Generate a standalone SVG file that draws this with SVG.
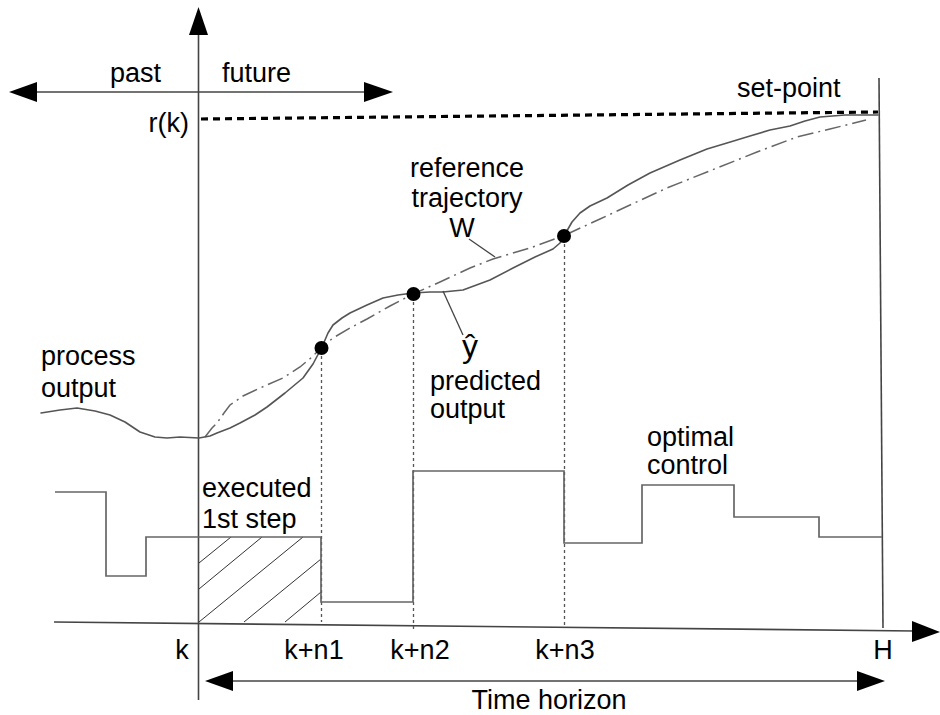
<svg xmlns="http://www.w3.org/2000/svg" width="940" height="715" viewBox="0 0 940 715">
<defs>
<style>
text{font-family:"Liberation Sans",Arial,sans-serif;font-size:27px;fill:#000}
.ax{stroke:#444;stroke-width:1.6;fill:none}
.ah{fill:#000;stroke:none}
.crv{stroke:#555;stroke-width:1.6;fill:none;stroke-linejoin:round;stroke-linecap:round}
.ref{stroke:#666;stroke-width:1.5;fill:none;stroke-dasharray:16 5 2 5}
.step{stroke:#666;stroke-width:1.7;fill:none}
.vd{stroke:#555;stroke-width:1.3;stroke-dasharray:3 3;fill:none}
.hatch{stroke:#333;stroke-width:1;fill:none}
.lead{stroke:#444;stroke-width:1.3;fill:none}
</style>
</defs>
<rect width="940" height="715" fill="#fff"/>
<g id="connectors">
<line class="ax" x1="198.5" y1="30" x2="198.5" y2="700"/>
<polygon class="ah" points="198.5,7 189,35 208,35"/>
<line class="ax" x1="30" y1="92" x2="372" y2="92"/>
<polygon class="ah" points="9,92 37,82 37,102"/>
<polygon class="ah" points="393,92 364,82 364,102"/>
<line class="ax" x1="54" y1="622" x2="915" y2="631"/>
<polygon class="ah" points="940,632 912,621 912,642"/>
<line class="ax" x1="879" y1="78" x2="883" y2="628"/>
<line class="ax" x1="225" y1="681" x2="865" y2="681"/>
<polygon class="ah" points="205,681 233,671 233,691"/>
<polygon class="ah" points="885,681 857,671 857,691"/>
<line x1="201" y1="119" x2="878" y2="112" stroke="#000" stroke-width="3.2" stroke-dasharray="7 5"/>
<line class="vd" x1="321.5" y1="350" x2="321.5" y2="622"/>
<line class="vd" x1="413.5" y1="296" x2="413.5" y2="630"/>
<line class="vd" x1="564.5" y1="238" x2="564.5" y2="626"/>
</g>
<g id="hatched-step">
<line class="hatch" x1="199" y1="563" x2="231" y2="537"/>
<line class="hatch" x1="199" y1="589" x2="262" y2="537"/>
<line class="hatch" x1="199" y1="622" x2="303" y2="537"/>
<line class="hatch" x1="244" y1="622" x2="321" y2="559"/>
<line class="hatch" x1="285" y1="622" x2="321" y2="592"/>
</g>
<g id="control-signal">
<polyline class="step" points="55,492 106,492 106,576 146,576 146,537 321,537 321,602 413,602 413,471 564,471 564,543 642,543 642,485 734,485 734,517 819,517 819,537 882,537"/>
</g>
<g id="reference-trajectory">
<polyline class="ref" points="205,437 212,428 217,423 224,413 230,405 243,396 260,388 283,378 300,367 312,357 322,347 333,338 350,328 367,319 390,306 413,294 440,282 470,268 493,259 530,248 563,236 600,219 630,205 667,188 707,172 757,152 797,137 830,129 866,120"/>
</g>
<g id="process-output">
<polyline class="crv" points="41,413 60,410 77,408 95,411 110,415 125,422 140,432 155,437 167,438 180,437 199,438 210,436 217,433 230,428 240,423 255,415 267,407 285,393 303,378 313,364 322,347 328,333 333,325 342,318 350,313 367,305 383,298 398,295 413,293 430,292 443,292 463,290 490,280 513,268 535,257 553,249 560,243 564,236 572,222 580,213 590,206 607,198 628,185 650,173 680,160 707,149 727,143 750,136 770,130 790,126 805,121 820,117 845,115 878,115"/>
</g>
<g id="points">
<circle cx="321.5" cy="348" r="7" fill="#000"/>
<circle cx="413.5" cy="294" r="7" fill="#000"/>
<circle cx="564" cy="236" r="7" fill="#000"/>
</g>
<g id="labels">
<text x="110" y="82">past</text>
<text x="222" y="82">future</text>
<text x="189" y="132" text-anchor="end">r(k)</text>
<text x="737" y="97">set-point</text>
<text x="467" y="177" text-anchor="middle">reference</text>
<text x="467" y="207" text-anchor="middle">trajectory</text>
<text x="462" y="237" text-anchor="middle">W</text>
<line class="lead" x1="469" y1="239" x2="495" y2="257"/>
<text x="41" y="365">process</text>
<text x="41" y="397">output</text>
<text x="470" y="357" text-anchor="middle" style="font-size:32px">ŷ</text>
<line class="lead" x1="443" y1="291" x2="463" y2="335"/>
<text x="430" y="390">predicted</text>
<text x="430" y="418">output</text>
<text x="647" y="446">optimal</text>
<text x="647" y="474">control</text>
<text x="202" y="497">executed</text>
<text x="202" y="528">1st step</text>
<text x="182" y="659" text-anchor="middle">k</text>
<text x="314" y="659" text-anchor="middle">k+n1</text>
<text x="420" y="659" text-anchor="middle">k+n2</text>
<text x="565" y="659" text-anchor="middle">k+n3</text>
<text x="883" y="659" text-anchor="middle">H</text>
<text x="549" y="709" text-anchor="middle">Time horizon</text>
</g>
</svg>
